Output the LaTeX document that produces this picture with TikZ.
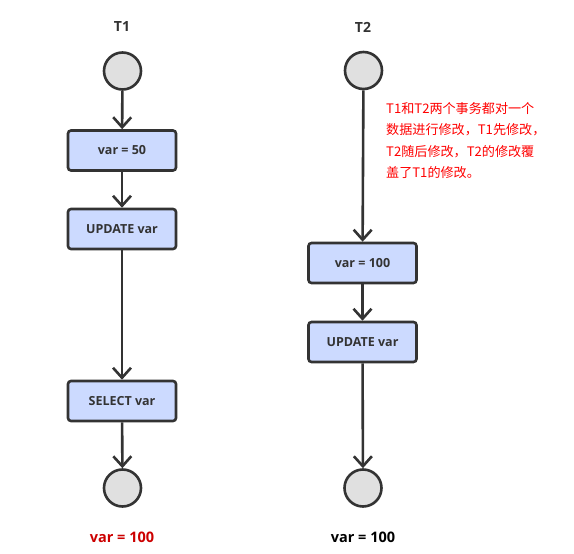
\documentclass[tikz,border=0pt]{standalone}
\usepackage{fontspec}
\setmainfont{Open Sans}
\newfontfamily\cjk{Noto Sans CJK SC}
\usetikzlibrary{arrows.meta}
\definecolor{boxfill}{HTML}{CCDAFF}
\definecolor{circfill}{HTML}{E0E0E0}
\definecolor{lineclr}{HTML}{333333}
\definecolor{notered}{HTML}{FF0000}
\definecolor{resred}{HTML}{CC0000}
\begin{document}
\begin{tikzpicture}[x=1pt,y=-1pt,
  stepbox/.style={draw=lineclr,line width=2.6pt,fill=boxfill,rounded corners=3pt,minimum width=108pt,minimum height=40pt,inner sep=0pt,font=\fontsize{12.5}{14}\selectfont\bfseries,text=lineclr},
  statecirc/.style={circle,draw=lineclr,line width=2.6pt,fill=circfill,minimum size=37pt,inner sep=0pt},
  flow/.style={draw=lineclr,line width=2.6pt,-{Straight Barb[length=10pt,width=18pt,line width=2.6pt]}},
  title/.style={font=\fontsize{14}{16}\selectfont\bfseries,text=lineclr}]
\useasboundingbox (0,0) rectangle (574,554);
% T1
\node[title] (t1) at (122,27) {T1};
\node[statecirc] (s1) at (122.5,71) {};
\node[stepbox] (a1) at (122,150.5) {var = 50};
\node[stepbox] (a2) at (122,229) {UPDATE var};
\node[stepbox] (a3) at (122,401) {SELECT var};
\node[statecirc] (e1) at (122.5,488) {};
\node[font=\fontsize{14.5}{16}\selectfont\bfseries,text=resred] (r1) at (122,537) {var = 100};
\draw[flow] (s1) -- (a1);
\draw[flow] (a1) -- (a2);
\draw[flow] (a2) -- (a3);
\draw[flow] (a3) -- (e1);
% T2
\node[title] (t2) at (363,27) {T2};
\node[statecirc] (s2) at (363.5,70.5) {};
\node[stepbox] (b1) at (362.5,263) {var = 100};
\node[stepbox] (b2) at (362.5,342) {UPDATE var};
\node[statecirc] (e2) at (363,488) {};
\node[font=\fontsize{14.5}{16}\selectfont\bfseries,text=black] (r2) at (363,537) {var = 100};
\draw[flow] (s2) -- (b1);
\draw[flow] (b1) -- (b2);
\draw[flow] (b2) -- (e2);
% note
\node[anchor=north west,align=left,inner sep=0pt,text=notered,font=\cjk\fontsize{13.1}{21.5}\selectfont] (note) at (386,102)
  {T1和T2两个事务都对一个\\数据进行修改，T1先修改，\\T2随后修改，T2的修改覆\\盖了T1的修改。};
\end{tikzpicture}
\end{document}
